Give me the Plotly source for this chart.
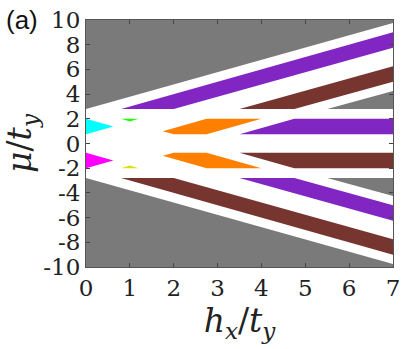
import plotly.graph_objects as go

# phase regions, vertices in (h_x/t_y, mu/t_y)
gray_top_x = [0, 0, 7, 7]
gray_top_y = [2.8, 10, 10, 9.75]
gray_bot_x = [0, 0, 7, 7]
gray_bot_y = [-2.8, -10, -10, -9.75]
gray_rt_x = [5.5, 7, 7]
gray_rt_y = [2.8, 2.8, 4.25]
gray_rb_x = [5.5, 7, 7]
gray_rb_y = [-2.8, -2.8, -4.25]

purple_top_x = [0.8, 2.0, 7, 7]
purple_top_y = [2.8, 2.8, 7.75, 9.0]
brown_bot_x = [0.8, 2.0, 7, 7]
brown_bot_y = [-2.8, -2.8, -7.75, -9.0]

brown_top_x = [3.5, 4.75, 7, 7]
brown_top_y = [2.8, 2.8, 5.0, 6.25]
purple_bot_x = [3.5, 4.75, 7, 7]
purple_bot_y = [-2.8, -2.8, -5.0, -6.25]

purple_mid_x = [3.5, 7, 7, 4.75]
purple_mid_y = [0.75, 0.75, 2.0, 2.0]
brown_mid_x = [3.5, 7, 7, 4.75]
brown_mid_y = [-0.75, -0.75, -2.0, -2.0]

orange_up_x = [1.75, 2.0, 2.75, 4.0, 2.75]
orange_up_y = [1.0, 0.75, 0.75, 2.0, 2.0]
orange_dn_x = [1.75, 2.0, 2.75, 4.0, 2.75]
orange_dn_y = [-1.0, -0.75, -0.75, -2.0, -2.0]

cyan_x = [0, 0.625, 0]
cyan_y = [2.0, 1.375, 0.75]
magenta_x = [0, 0.625, 0]
magenta_y = [-2.0, -1.375, -0.75]

green_x = [0.8, 1.2, 1.0]
green_y = [2.0, 2.0, 1.78]
yellow_x = [0.8, 1.2, 1.0]
yellow_y = [-2.0, -2.0, -1.78]

x_ticks = [0, 1, 2, 3, 4, 5, 6, 7]
y_ticks = [-10, -8, -6, -4, -2, 0, 2, 4, 6, 8, 10]

GRAY = "#7a7a7a"
PURPLE = "#8126c2"
BROWN = "#773530"
ORANGE = "#ff8000"

regions = [
    (gray_top_x, gray_top_y, GRAY),
    (gray_bot_x, gray_bot_y, GRAY),
    (gray_rt_x, gray_rt_y, GRAY),
    (gray_rb_x, gray_rb_y, GRAY),
    (purple_top_x, purple_top_y, PURPLE),
    (purple_bot_x, purple_bot_y, PURPLE),
    (purple_mid_x, purple_mid_y, PURPLE),
    (brown_top_x, brown_top_y, BROWN),
    (brown_bot_x, brown_bot_y, BROWN),
    (brown_mid_x, brown_mid_y, BROWN),
    (orange_up_x, orange_up_y, ORANGE),
    (orange_dn_x, orange_dn_y, ORANGE),
    (cyan_x, cyan_y, "#00ffff"),
    (magenta_x, magenta_y, "#ff00ff"),
    (green_x, green_y, "#22ff00"),
    (yellow_x, yellow_y, "#dede00"),
]

fig = go.Figure()
for xs, ys, col in regions:
    fig.add_trace(go.Scatter(
        x=xs, y=ys, mode="lines", fill="toself", fillcolor=col,
        line=dict(width=0, color=col), hoverinfo="skip", showlegend=False,
    ))

SERIF = "DejaVu Serif"
TICKFONT = dict(family=SERIF, size=23, color="#222")
axis_common = dict(
    showgrid=False, zeroline=False, ticks="inside", ticklen=4, tickwidth=1,
    tickcolor="#444", showline=True, linecolor="#555", linewidth=1,
    mirror="ticks",
)
fig.update_xaxes(
    range=[0, 7], tickvals=x_ticks, ticktext=[str(v) for v in x_ticks],
    title=dict(text="<i>h</i><sub><i>x</i></sub>/<i>t</i><sub><i>y</i></sub>",
               font=dict(family=SERIF, size=33, color="#222"), standoff=8),
    **axis_common,
)
fig.update_yaxes(
    range=[-10, 10], tickvals=y_ticks, ticktext=[str(v) for v in y_ticks],
    title=dict(text="<i>μ</i>/<i>t</i><sub><i>y</i></sub>",
               font=dict(family=SERIF, size=33, color="#222"), standoff=2),
    **axis_common,
)
fig.add_annotation(
    text="(a)", xref="paper", yref="paper", x=-0.268, y=1.068,
    xanchor="left", yanchor="top", showarrow=False,
    font=dict(family="Liberation Sans, Arial, sans-serif", size=26, color="#111"),
)
fig.update_layout(
    width=407, height=349, autosize=False,
    font=TICKFONT,
    xaxis_tickfont=TICKFONT, yaxis_tickfont=TICKFONT,
    margin=dict(l=86, r=7, t=13, b=82),
    paper_bgcolor="white", plot_bgcolor="white",
)
fig.write_html("out.html", config={"displayModeBar": False},
               post_script="document.body.style.margin='0';")
